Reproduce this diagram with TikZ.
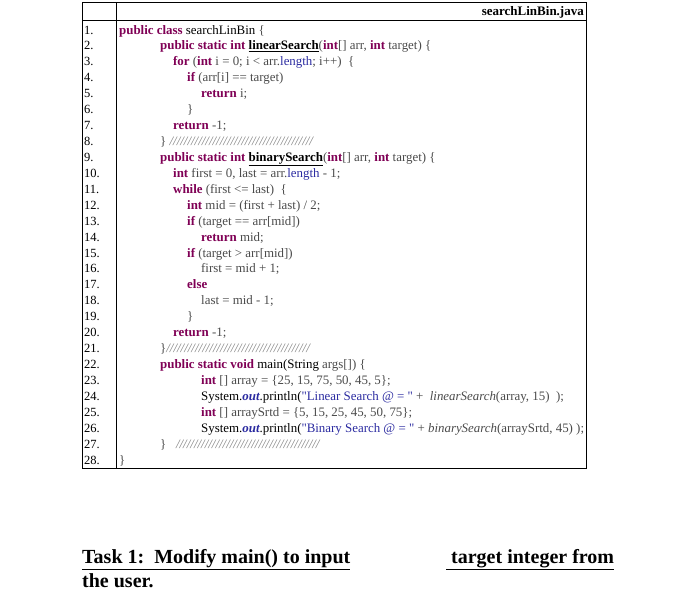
\documentclass[tikz,border=0pt]{standalone}
\usepackage{fontspec}
\setmainfont{Liberation Serif}
\definecolor{kw}{HTML}{7F0055}
\definecolor{tx}{HTML}{4A4A4A}
\definecolor{fd}{HTML}{2A2AA0}
\definecolor{cm}{HTML}{808080}
\newcommand{\K}[1]{\textbf{\textcolor{kw}{#1}}}
\newcommand{\F}[1]{\textcolor{fd}{#1}}
\newcommand{\C}[1]{\textcolor{cm}{\textit{#1}}}
\newcommand{\B}[1]{\textbf{\textcolor{black}{#1}}}
\newcommand{\Q}{\textquotedbl}
\begin{document}
\begin{tikzpicture}[x=1pt,y=-1pt,
  code/.style={anchor=base west,inner sep=0pt,font=\fontsize{12.9}{13}\selectfont,text=tx},
  num/.style={anchor=base west,inner sep=0pt,font=\fontsize{12.5}{12}\selectfont,text=black},
  task/.style={anchor=base west,inner sep=0pt,font=\bfseries\fontsize{20}{20}\selectfont}]
\useasboundingbox (0,0) rectangle (700,590);
\draw[line width=0.8pt] (82,2) rectangle (586,468);
\draw[line width=0.8pt] (82,20) -- (586,20);
\draw[line width=0.8pt] (116,2) -- (116,468);
\node[anchor=base east,inner sep=0pt,font=\bfseries\fontsize{13}{13}\selectfont] (hdr) at (584,15) {searchLinBin.java};
\foreach \n in {1,...,28}{
  \node[num] (n\n) at (84,{34+(\n-1)*15.93}) {\n.};
}
\def\L#1#2#3{\node[code] (l#1) at (#2,{34+(#1-1)*15.93}) {#3};}
\L{1}{119}{\K{public class} \textcolor{black}{searchLinBin} \{}
\L{2}{160}{\K{public static int} \B{\underline{linearSearch}}(\K{int}[] arr, \K{int} target) \{}
\L{3}{173}{\K{for} (\K{int} i = 0; i < arr.\F{length}; i++)~ \{}
\L{4}{187}{\K{if} (arr[i] == target)}
\L{5}{201}{\K{return} i;}
\L{6}{187}{\}}
\L{7}{173}{\K{return} -1;}
\L{8}{160}{\} \C{////////////////////////////////////////}}
\L{9}{160}{\K{public static int} \B{\underline{binarySearch}}(\K{int}[] arr, \K{int} target) \{}
\L{10}{173}{\K{int} first = 0, last = arr.\F{length} - 1;}
\L{11}{173}{\K{while} (first <= last)~ \{}
\L{12}{187}{\K{int} mid = (first + last) / 2;}
\L{13}{187}{\K{if} (target == arr[mid])}
\L{14}{201}{\K{return} mid;}
\L{15}{187}{\K{if} (target > arr[mid])}
\L{16}{201}{first = mid + 1;}
\L{17}{187}{\K{else}}
\L{18}{201}{last = mid - 1;}
\L{19}{187}{\}}
\L{20}{173}{\K{return} -1;}
\L{21}{160}{\}\C{////////////////////////////////////////}}
\L{22}{160}{\K{public static void} \textcolor{black}{main(String} args[]) \{}
\L{23}{201}{\K{int} [] array = \{25, 15, 75, 50, 45, 5\};}
\L{24}{201}{\textcolor{black}{System.\textbf{\textit{\F{out}}}.println(}\F{\Q Linear Search @ = \Q} + ~\textit{linearSearch}(array, 15) ~);}
\L{25}{201}{\K{int} [] arraySrtd = \{5, 15, 25, 45, 50, 75\};}
\L{26}{201}{\textcolor{black}{System.\textbf{\textit{\F{out}}}.println(}\F{\Q Binary Search @ = \Q} + \textit{binarySearch}(arraySrtd, 45) );}
\L{27}{160}{\} ~~\C{////////////////////////////////////////}}
\L{28}{119}{\}}
\node[task] (t1) at (82,563) {\underline{Task 1:\ \ Modify main() to input}};
\node[task] (t2) at (446,563) {\underline{\ target integer from}};
\node[task] (t3) at (82,587) {the user.};
\end{tikzpicture}
\end{document}
